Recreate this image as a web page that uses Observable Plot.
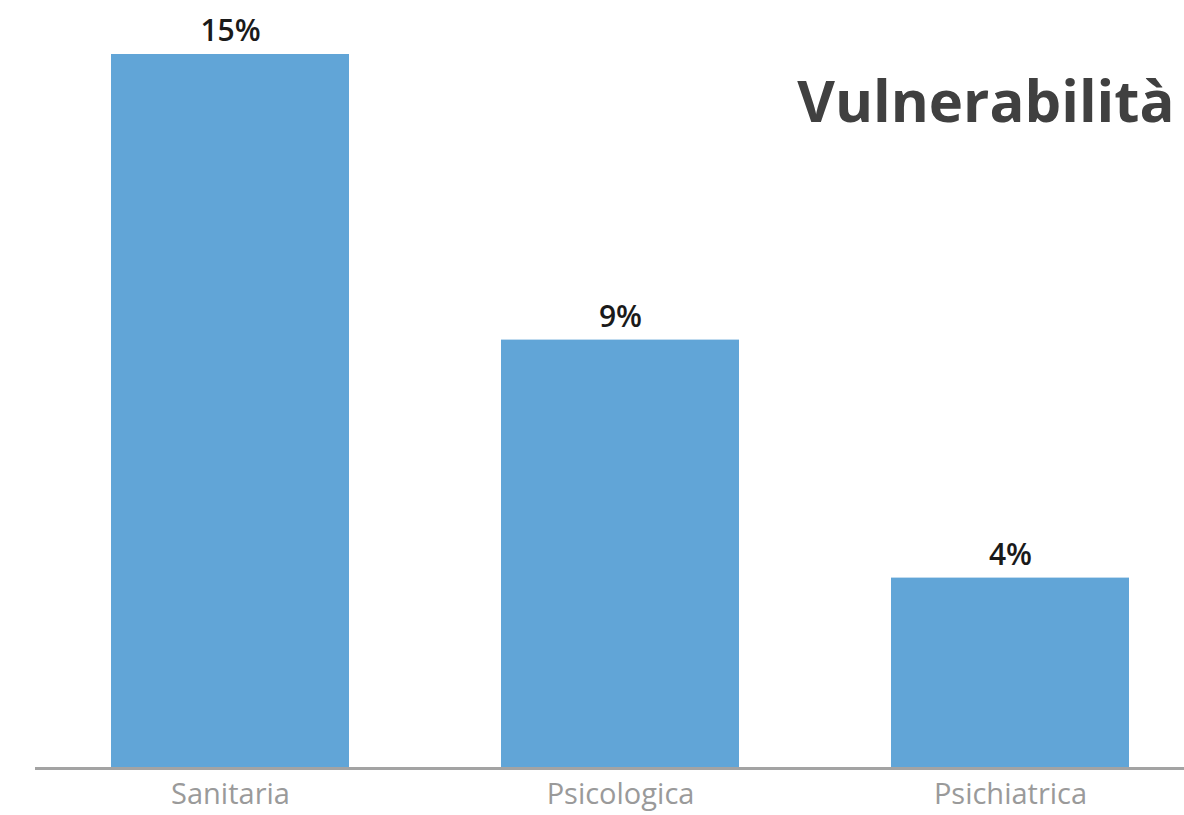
<!DOCTYPE html>
<html>
<head>
<meta charset="utf-8">
<script src="https://cdn.jsdelivr.net/npm/d3@7"></script>
<script src="https://cdn.jsdelivr.net/npm/@observablehq/plot@0.6"></script>
<style>
  html, body { margin: 0; padding: 0; background: #fff; }
  #chart { width: 1184px; height: 815px; overflow: hidden; }
  svg { display: block; }
</style>
</head>
<body>
<div id="chart"></div>
<script>
const categories = ["Sanitaria", "Psicologica", "Psichiatrica"];
const values = [15, 9, 4];
const valueLabels = ["15%", "9%", "4%"];
const title = ["Vulnerabilità"];

const data = categories.map((c, i) => ({cat: c, v: values[i], label: valueLabels[i]}));

const font = "'Open Sans', 'DejaVu Sans', sans-serif";

const chart = Plot.plot({
  width: 1184,
  height: 815,
  marginLeft: 35,
  marginRight: 0,
  marginTop: 54,
  marginBottom: 47,
  style: {fontFamily: font, background: "#fff", overflow: "visible"},
  x: {domain: categories, range: [35, 1204], paddingInner: 0.39, paddingOuter: 0.192, label: null},
  y: {domain: [0, 15], axis: null},
  marks: [
    Plot.barY(data, {x: "cat", y: "v", fill: "#61a5d7"}),
    Plot.text(data, {x: "cat", y: "v", text: "label", dy: -23, fontSize: 30, fill: "#1a1a1a", fontWeight: 600}),
    Plot.ruleY([0], {stroke: "#a3a3a3", strokeWidth: 3}),
    Plot.axisX({tickSize: 0, tickPadding: 15, fontSize: 29, fill: "#9a9a9a", label: null}),
    Plot.text(title, {frameAnchor: "top-right", text: d => d, dx: -10, dy: 26, fontSize: 58, fontWeight: "bold", fill: "#404040", lineAnchor: "top"})
  ]
});

document.getElementById("chart").appendChild(chart);
</script>
</body>
</html>
